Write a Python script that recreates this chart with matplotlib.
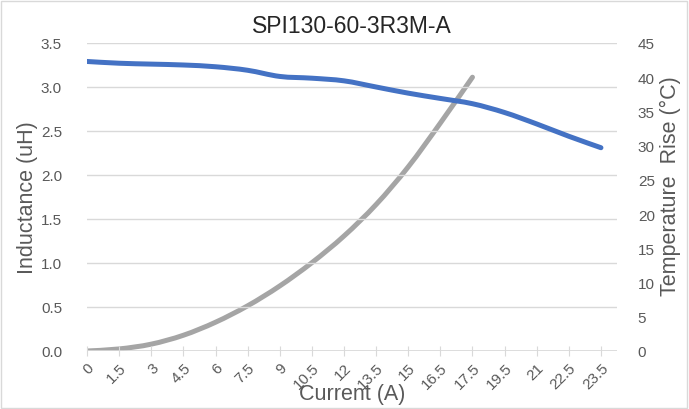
import numpy as np
import matplotlib.pyplot as plt
from matplotlib.patches import Rectangle, PathPatch
from matplotlib.path import Path

plt.rcParams['font.family'] = ['Liberation Sans', 'DejaVu Sans']

current_labels = ["0", "1.5", "3", "4.5", "6", "7.5", "9", "10.5", "12", "13.5",
                  "15", "16.5", "17.5", "19.5", "21", "22.5", "23.5"]
inductance = [3.29, 3.27, 3.26, 3.25, 3.23, 3.19, 3.12, 3.10, 3.07, 3.00,
              2.93, 2.87, 2.81, 2.71, 2.58, 2.44, 2.31]
temp_rise = [0.0, 0.3, 1.0, 2.3, 4.2, 6.6, 9.5, 12.9, 16.8, 21.4,
             26.9, 33.3, 40.0]

text_color = "#595959"
grid_color = "#d9d9d9"


def smooth_line(ax, xs, ys, **kw):
    # excel-style smoothed line (catmull-rom as bezier segments)
    pts = np.column_stack([xs, ys]).astype(float)
    n = len(pts)
    verts = [pts[0]]
    codes = [Path.MOVETO]
    for i in range(n - 1):
        p0 = pts[max(i - 1, 0)]
        p1 = pts[i]
        p2 = pts[i + 1]
        p3 = pts[min(i + 2, n - 1)]
        verts += [p1 + (p2 - p0) / 6, p2 - (p3 - p1) / 6, p2]
        codes += [Path.CURVE4] * 3
    patch = PathPatch(Path(verts, codes), fill=False, **kw)
    ax.add_patch(patch)
    return patch


fig = plt.figure(figsize=(6.89, 4.10), dpi=100)
fig.patches.append(Rectangle((0.002, 0.003), 0.995, 0.993, transform=fig.transFigure,
                             fill=False, edgecolor="#d9d9d9", linewidth=1))

ax = fig.add_axes([0.1263, 0.1415, 0.8955 - 0.1263, 0.8927 - 0.1415])
ax2 = ax.twinx()

x = np.arange(len(current_labels))

# temperature (right axis)
smooth_line(ax2, x[:len(temp_rise)], temp_rise, edgecolor="#A5A5A5",
            linewidth=3.6, capstyle='round')
ax2.set_ylim(0, 45)
ax2.set_yticks(np.arange(0, 46, 5))
ax2.set_ylabel("Temperature  Rise (°C)", fontsize=15.5, color=text_color)
ax2.yaxis.set_label_coords(1.081, 0.54)

# inductance (left axis)
ax.set_zorder(ax2.get_zorder() + 1)
ax.patch.set_visible(False)
smooth_line(ax, x, inductance, edgecolor="#4472C4", linewidth=3.6, capstyle='round')
ax.set_ylim(0, 3.5)
ax.set_yticks(np.arange(0, 3.51, 0.5))
ax.set_yticklabels([f"{v:.1f}" for v in np.arange(0, 3.51, 0.5)])
ax.set_ylabel("Inductance (uH)", fontsize=15.5, color=text_color)
ax.yaxis.set_label_coords(-0.0925, 0.5)
ax.set_xlim(0, len(current_labels) - 0.5)
ax.set_xticks(x)
ax.set_xticklabels(current_labels, rotation=45, ha='right', rotation_mode='anchor')
ax.set_xlabel("Current (A)", fontsize=15.5, color=text_color, va='top')
ax.xaxis.set_label_coords(0.5, -0.105)

ax.yaxis.grid(True, color=grid_color, linewidth=1)
ax.set_axisbelow(True)
for a in (ax, ax2):
    for s in ("top", "right", "left", "bottom"):
        a.spines[s].set_visible(False)
ax.tick_params(axis='y', length=0, labelsize=11, labelcolor=text_color, pad=18)
ax2.tick_params(axis='y', length=0, labelsize=11, labelcolor=text_color, pad=15)
ax.axhline(0, color=grid_color, linewidth=1.2, zorder=0)
ax.tick_params(axis='x', direction='inout', length=7, color=grid_color,
               labelsize=11, labelcolor=text_color, pad=3)

ax.set_title("SPI130-60-3R3M-A", fontsize=16.5, color="#262626", pad=8)

fig.savefig("out.png", dpi=100)
